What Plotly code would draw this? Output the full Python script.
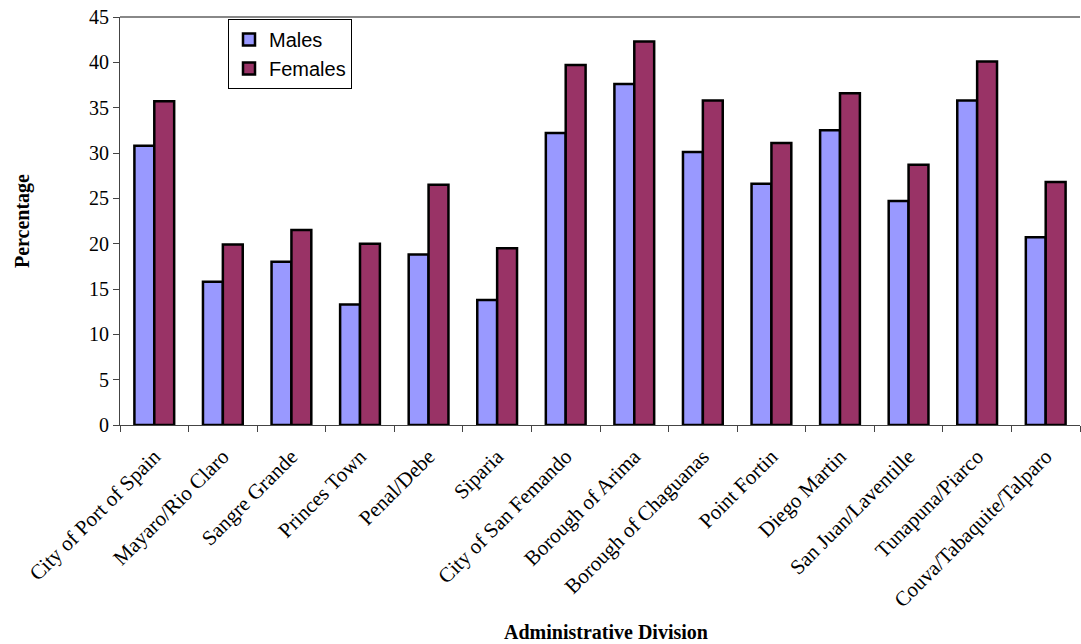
import plotly.graph_objects as go

divisions = [
    "City of Port of Spain", "Mayaro/Rio Claro", "Sangre Grande", "Princes Town",
    "Penal/Debe", "Siparia", "City of San Femando", "Borough of Arima",
    "Borough of Chaguanas", "Point Fortin", "Diego Martin", "San Juan/Laventille",
    "Tunapuna/Piarco", "Couva/Tabaquite/Talparo",
]
males = [30.8, 15.8, 18.0, 13.3, 18.8, 13.8, 32.2, 37.6, 30.1, 26.6, 32.5, 24.7, 35.8, 20.7]
females = [35.7, 19.9, 21.5, 20.0, 26.5, 19.5, 39.7, 42.3, 35.8, 31.1, 36.6, 28.7, 40.1, 26.8]
y_ticks = [0, 5, 10, 15, 20, 25, 30, 35, 40, 45]

serif = "Liberation Serif"

fig = go.Figure()
fig.add_trace(go.Bar(name="Males", x=divisions, y=males,
                     marker=dict(color="#9999FF", line=dict(color="black", width=2.5))))
fig.add_trace(go.Bar(name="Females", x=divisions, y=females,
                     marker=dict(color="#993366", line=dict(color="black", width=2.5))))

fig.update_layout(
    width=1081, height=644,
    margin=dict(l=120, r=1, t=17, b=219),
    paper_bgcolor="white", plot_bgcolor="white",
    barmode="group", bargap=0.42, bargroupgap=0,
    showlegend=True,
    legend=dict(x=0.1125, y=0.995, xanchor="left", yanchor="top",
                bordercolor="black", borderwidth=1, bgcolor="white",
                font=dict(family="Liberation Sans", size=20, color="black"),
                itemwidth=30, tracegroupgap=2),
    font=dict(family=serif, color="black"),
)
fig.update_xaxes(
    tickangle=-45, tickfont=dict(family=serif, size=21, color="black"),
    ticklabelstandoff=10,
    showline=True, linecolor="#444", linewidth=1,
    ticks="outside", ticklen=6, tickcolor="#444", tickson="boundaries",
    showgrid=False, automargin=False,
)
fig.update_yaxes(
    range=[0, 45], tickvals=y_ticks,
    tickfont=dict(family=serif, size=20, color="black"),
    showline=True, linecolor="#444", linewidth=1,
    ticks="outside", ticklen=6, tickcolor="#444",
    showgrid=False, zeroline=False, automargin=False,
)
# gray top border of the plot area
fig.add_shape(type="line", xref="paper", yref="paper", x0=0, x1=1, y0=1, y1=1,
              line=dict(color="#888", width=2))
fig.add_annotation(text="<b>Administrative Division</b>", xref="paper", yref="paper",
                   x=0.506, y=-0.508, xanchor="center", yanchor="middle", showarrow=False,
                   font=dict(family=serif, size=20, color="black"))
fig.add_annotation(text="<b>Percentage</b>", xref="paper", yref="paper",
                   x=-0.102, y=0.5, xanchor="center", yanchor="middle", showarrow=False,
                   textangle=-90, font=dict(family=serif, size=20, color="black"))

fig.write_html("out.html")
